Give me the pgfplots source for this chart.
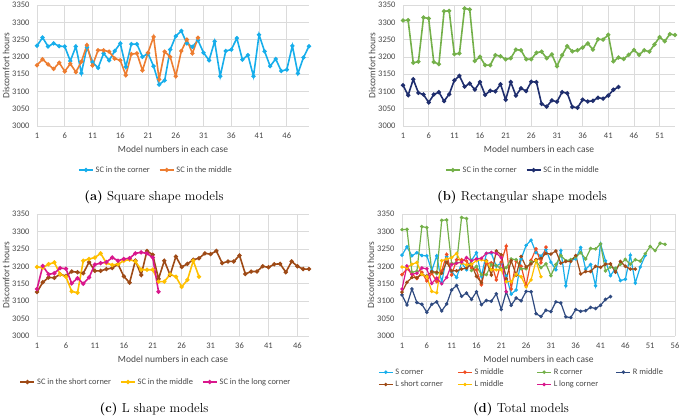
\documentclass[border=0pt]{standalone}
\usepackage{fontspec}
\usepackage{pgfplots}
\pgfplotsset{compat=1.18}
\usepackage{pgfplotstable}
\newfontfamily\carlito{Carlito}

\definecolor{scorner}{HTML}{17AEEB}
\definecolor{smidA}{HTML}{ED7D31}
\definecolor{smidD}{HTML}{F04E23}
\definecolor{rcorner}{HTML}{74B04A}
\definecolor{rmidB}{HTML}{1F2E6E}
\definecolor{rmidD}{HTML}{2F4A80}
\definecolor{lshort}{HTML}{9E4A16}
\definecolor{lmid}{HTML}{FFC000}
\definecolor{llong}{HTML}{D9178C}

% square, corner / middle
\pgfplotstableread{
x y
1 3232
2 3256
3 3230
4 3239
5 3231
6 3230
7 3188
8 3230
9 3153
10 3228
11 3185
12 3168
13 3210
14 3190
15 3217
16 3239
17 3171
18 3237
19 3237
20 3200
21 3210
22 3173
23 3120
24 3132
25 3221
26 3260
27 3275
28 3239
29 3229
30 3248
31 3212
32 3190
33 3245
34 3144
35 3217
36 3221
37 3254
38 3192
39 3205
40 3144
41 3264
42 3216
43 3173
44 3194
45 3159
46 3163
47 3232
48 3152
49 3198
50 3231
}\scornertab

\pgfplotstableread{
x y
1 3176
2 3193
3 3178
4 3165
5 3183
6 3158
7 3180
8 3156
9 3186
10 3234
11 3175
12 3219
13 3219
14 3215
15 3195
16 3190
17 3147
18 3208
19 3210
20 3161
21 3212
22 3258
23 3135
24 3215
25 3200
26 3144
27 3217
28 3250
29 3210
30 3255
}\smidtab

% rectangular
\pgfplotstableread{
x y
1 3305
2 3306
3 3183
4 3186
5 3314
6 3311
7 3185
8 3179
9 3332
10 3333
11 3208
12 3210
13 3340
14 3337
15 3188
16 3200
17 3176
18 3176
19 3205
20 3202
21 3193
22 3196
23 3221
24 3219
25 3193
26 3193
27 3212
28 3215
29 3196
30 3207
31 3173
32 3205
33 3231
34 3216
35 3219
36 3227
37 3239
38 3221
39 3251
40 3250
41 3264
42 3187
43 3198
44 3194
45 3206
46 3220
47 3206
48 3219
49 3215
50 3236
51 3257
52 3245
53 3266
54 3263
}\rcornertab

\pgfplotstableread{
x y
1 3118
2 3089
3 3135
4 3096
5 3091
6 3068
7 3091
8 3098
9 3072
10 3092
11 3132
12 3145
13 3114
14 3123
15 3105
16 3127
17 3090
18 3102
19 3100
20 3121
21 3076
22 3127
23 3088
24 3109
25 3101
26 3128
27 3127
28 3064
29 3056
30 3074
31 3070
32 3098
33 3095
34 3055
35 3053
36 3076
37 3071
38 3073
39 3082
40 3079
41 3088
42 3105
43 3113
}\rmidtab

% L shape
\pgfplotstableread{
x y
1 3126
2 3154
3 3168
4 3167
5 3177
6 3172
7 3185
8 3183
9 3180
10 3212
11 3187
12 3187
13 3192
14 3195
15 3206
16 3171
17 3153
18 3216
19 3175
20 3244
21 3233
22 3164
23 3216
24 3175
25 3228
26 3198
27 3207
28 3219
29 3223
30 3237
31 3235
32 3244
33 3209
34 3214
35 3214
36 3231
37 3178
38 3185
39 3185
40 3200
41 3197
42 3206
43 3207
44 3183
45 3214
46 3200
47 3192
48 3192
}\lshorttab

\pgfplotstableread{
x y
1 3198
2 3196
3 3206
4 3211
5 3177
6 3170
7 3128
8 3124
9 3216
10 3221
11 3225
12 3237
13 3209
14 3204
15 3206
16 3216
17 3219
18 3214
19 3190
20 3190
21 3190
22 3156
23 3156
24 3177
25 3170
26 3141
27 3161
28 3216
29 3170
}\lmidtab

\pgfplotstableread{
x y
1 3135
2 3201
3 3177
4 3180
5 3195
6 3193
7 3151
8 3166
9 3150
10 3168
11 3205
12 3209
13 3212
14 3225
15 3216
16 3221
17 3223
18 3237
19 3240
20 3237
21 3225
22 3127
}\llongtab

\pgfplotsset{
  panel/.style={
    scale only axis, width=272pt, height=121pt, anchor=south west,
    xmin=1, ymin=3000, ymax=3350,
    ytick={3000,3050,...,3350},
    grid=major, major grid style={draw=black!14, line width=0.7pt},
    axis line style={draw=none}, tick style={draw=none},
    /pgf/number format/assume math mode=true,
    /pgf/number format/1000 sep={},
    tick label style={font=\carlito\fontsize{8.5}{10}\selectfont, text=black!72},
    xticklabel style={yshift=-3pt},
    yticklabel style={xshift=-4pt},
    label style={font=\carlito\fontsize{9.5}{11}\selectfont, text=black!72},
    xlabel={Model numbers in each case},
    ylabel={Discomfort hours},
    xlabel style={at={(axis description cs:0.5,-0.19)}, anchor=center},
    ylabel style={at={(axis description cs:-0.114,0.5)}, anchor=center},
    legend style={draw=none, fill=none, anchor=center,
      font=\carlito\fontsize{8.4}{9}\selectfont, text=black!72,
      /tikz/every even column/.append style={column sep=7pt}},
    legend columns=-1,
    legend image code/.code={\draw[mark repeat=2,mark phase=2]
      plot coordinates {(0pt,0pt)(7pt,0pt)(14pt,0pt)};},
    every axis plot/.append style={line width=1.6pt, mark=*, mark size=1.25pt},
    every mark/.append style={solid},
  }
}

\begin{document}
\begin{tikzpicture}
\useasboundingbox (0,0) rectangle (685pt,-416pt);

% (a) square
\begin{axis}[panel, at={(37pt,-126pt)}, xmax=50, xtick={1,6,...,46},
  legend style={at={(0.4375,-0.364)}}]
  \addplot[scorner] table {\scornertab};
  \addplot[smidA] table {\smidtab};
  \legend{SC in the corner, SC in the middle}
\end{axis}

% (b) rectangular
\begin{axis}[panel, at={(403pt,-126pt)}, xmax=54, xtick={1,6,...,51},
  legend style={at={(0.441,-0.364)}}]
  \addplot[rcorner] table {\rcornertab};
  \addplot[rmidB] table {\rmidtab};
  \legend{SC in the corner, SC in the middle}
\end{axis}

% (c) L shape
\begin{axis}[panel, at={(37pt,-336pt)}, height=122pt, xmax=48, xtick={1,6,...,46},
  legend style={at={(0.4375,-0.377)}}]
  \addplot[lshort] table {\lshorttab};
  \addplot[lmid] table {\lmidtab};
  \addplot[llong] table {\llongtab};
  \legend{SC in the short corner, SC in the middle, SC in the long corner}
\end{axis}

% (d) total
\begin{axis}[panel, at={(402pt,-336pt)}, width=273pt, height=122pt,
  xmax=56, xtick={1,6,...,56}, legend columns=4,
  every axis plot/.append style={line width=1.2pt, mark size=1.1pt},
  legend style={at={(-0.099,-0.232)}, anchor=north west, row sep=1pt,
    /tikz/every even column/.append style={column sep=0pt}}]
  \addplot[scorner] table {\scornertab};
  \addplot[smidD] table {\smidtab};
  \addplot[rcorner] table {\rcornertab};
  \addplot[rmidD] table {\rmidtab};
  \addplot[lshort] table {\lshorttab};
  \addplot[lmid] table {\lmidtab};
  \addplot[llong] table {\llongtab};
  \legend{\makebox[60pt][l]{S corner}, \makebox[60pt][l]{S middle},
    \makebox[60pt][l]{R corner}, R middle,
    \makebox[60pt][l]{L short corner}, \makebox[60pt][l]{L middle},
    \makebox[60pt][l]{L long corner}}
\end{axis}

\begin{scope}[every node/.style={font=\fontsize{13}{15}\selectfont, anchor=base}]
  \node at (154pt,-200.7pt) {\textbf{(a)} Square shape models};
  \node at (522pt,-200.7pt) {\textbf{(b)} Rectangular shape models};
  \node at (154pt,-412pt) {\textbf{(c)} L shape models};
  \node at (521pt,-412.5pt) {\textbf{(d)} Total models};
\end{scope}
\end{tikzpicture}
\end{document}
